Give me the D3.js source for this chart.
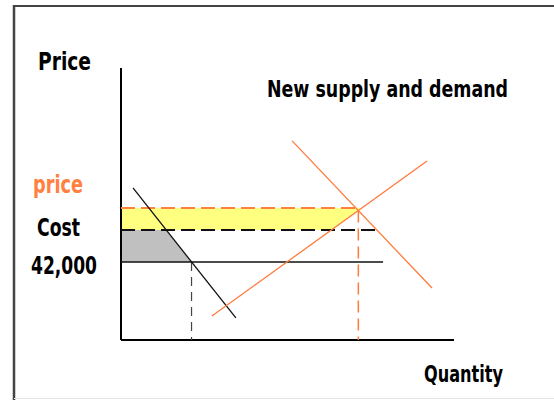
<!DOCTYPE html>
<html>
<head>
<meta charset="utf-8">
<script src="https://cdn.jsdelivr.net/npm/d3@7"></script>
<style>
  body { margin: 0; background: #fff; }
  text { font-family: "Liberation Sans Narrow", "DejaVu Sans Condensed", sans-serif; font-weight: bold; }
</style>
</head>
<body>
<div id="holder"></div>
<script>
// curves, as [quantity, price] end points
var oldDemand = [[0.36, 5.59], [3.45, 0.81]];
var newSupply = [[2.73, 0.88], [9.19, 6.58]];
var newDemand = [[5.14, 7.32], [9.34, 1.91]];

// horizontal levels
var levelNames = ["price", "Cost", "42,000"];
var levelValues = [4.85, 4.04, 2.87];
var levelEnds = [null, 7.78, 7.87];

// text
var titleText = "New supply and demand";
var yLabel = "Price";
var xLabel = "Quantity";

var width = 554, height = 400;

var svg = d3.select("#holder")
            .append("svg")
            .attr("width", width)
            .attr("height", height);

// frame
svg.append("line").attr("x1", 14).attr("x2", width).attr("y1", 6).attr("y2", 6)
   .attr("stroke", "#444").attr("stroke-width", 2);
svg.append("line").attr("x1", 14).attr("x2", 14).attr("y1", 5).attr("y2", height)
   .attr("stroke", "#444").attr("stroke-width", 2.5);
svg.append("line").attr("x1", 14).attr("x2", width).attr("y1", 398.5).attr("y2", 398.5)
   .attr("stroke", "#e4e4e4").attr("stroke-width", 1);

var x = d3.scaleLinear().domain([0, 10]).range([121, 454]);
var y = d3.scaleLinear().domain([0, 10]).range([340, 68]);

// helpers
function lineAt(seg, yy) {   // quantity where segment reaches price yy
  var a = seg[0], b = seg[1];
  return a[0] + (yy - a[1]) * (b[0] - a[0]) / (b[1] - a[1]);
}
function slope(seg) { return (seg[1][1] - seg[0][1]) / (seg[1][0] - seg[0][0]); }
var s1 = slope(newSupply), s2 = slope(newDemand);
var eqX = (newDemand[0][1] - newSupply[0][1] + s1 * newSupply[0][0] - s2 * newDemand[0][0]) / (s1 - s2);
var eqY = newSupply[0][1] + s1 * (eqX - newSupply[0][0]);

var priceLvl = levelValues[0], costLvl = levelValues[1], baseLvl = levelValues[2];

var poly = d3.line().x(d => x(d[0])).y(d => y(d[1]));

// yellow area: price down to cost, bounded by supply
svg.append("path")
   .attr("d", poly([[0, priceLvl], [lineAt(newSupply, priceLvl), priceLvl],
                    [lineAt(newSupply, costLvl), costLvl], [0, costLvl]]) + "Z")
   .attr("fill", "#ffff80");

// grey area: cost down to 42,000, bounded by old demand
svg.append("path")
   .attr("d", poly([[0, costLvl], [lineAt(oldDemand, costLvl), costLvl],
                    [lineAt(oldDemand, baseLvl), baseLvl], [0, baseLvl]]) + "Z")
   .attr("fill", "#c0c0c0");

// axes
svg.append("line").attr("x1", x(0)).attr("x2", x(0)).attr("y1", y(10)).attr("y2", y(0))
   .attr("stroke", "#000").attr("stroke-width", 2);
svg.append("line").attr("x1", x(0)).attr("x2", x(10)).attr("y1", y(0)).attr("y2", y(0))
   .attr("stroke", "#000").attr("stroke-width", 2);

// level lines
svg.append("line")
   .attr("x1", x(0)).attr("x2", x(eqX)).attr("y1", y(priceLvl)).attr("y2", y(priceLvl))
   .attr("stroke", "#ff8040").attr("stroke-width", 2).attr("stroke-dasharray", "14,6");
svg.append("line")
   .attr("x1", x(0)).attr("x2", x(levelEnds[1])).attr("y1", y(costLvl)).attr("y2", y(costLvl))
   .attr("stroke", "#111").attr("stroke-width", 2).attr("stroke-dasharray", "14,6");
svg.append("line")
   .attr("x1", x(0)).attr("x2", x(levelEnds[2])).attr("y1", y(baseLvl)).attr("y2", y(baseLvl))
   .attr("stroke", "#111").attr("stroke-width", 1.5);

// drop lines
var qOld = lineAt(oldDemand, baseLvl);
svg.append("line")
   .attr("x1", x(qOld)).attr("x2", x(qOld)).attr("y1", y(baseLvl)).attr("y2", y(0))
   .attr("stroke", "#444").attr("stroke-width", 1.2).attr("stroke-dasharray", "9,6");
svg.append("line")
   .attr("x1", x(eqX)).attr("x2", x(eqX)).attr("y1", y(eqY)).attr("y2", y(0))
   .attr("stroke", "#ff7a3c").attr("stroke-width", 1.5).attr("stroke-dasharray", "12,6");

// curves
svg.append("path").attr("d", poly(oldDemand))
   .attr("stroke", "#111").attr("stroke-width", 1.3).attr("fill", "none");
svg.append("path").attr("d", poly(newSupply))
   .attr("stroke", "#ff7a3c").attr("stroke-width", 1.3).attr("fill", "none");
svg.append("path").attr("d", poly(newDemand))
   .attr("stroke", "#ff7a3c").attr("stroke-width", 1.3).attr("fill", "none");

// labels
function label(t, px, py, w, size, col) {
  svg.append("text").text(t)
     .attr("x", px).attr("y", py)
     .attr("font-size", size)
     .attr("textLength", w).attr("lengthAdjust", "spacingAndGlyphs")
     .attr("fill", col || "#000");
}
label(yLabel, 38, 70, 53, 25);
label(titleText, 267, 97, 241, 23);
label(levelNames[0], 33, 193, 50, 24, "#ff8040");
label(levelNames[1], 37, 236, 43, 24);
label(levelNames[2], 31, 274, 66, 24);
label(xLabel, 424, 382, 79, 23);
</script>
</body>
</html>
